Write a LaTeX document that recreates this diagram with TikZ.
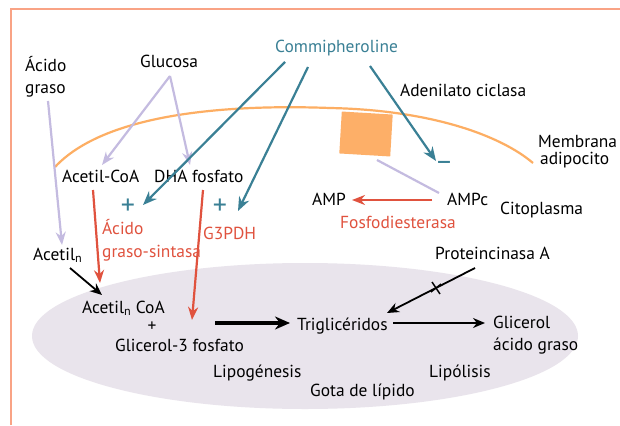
\documentclass[tikz,border=0pt]{standalone}
\usepackage{fontspec}
\setmainfont{PT Sans}
\usetikzlibrary{arrows.meta}
\definecolor{tealc}{HTML}{3A8095}
\definecolor{redc}{HTML}{E0523E}
\definecolor{lavc}{HTML}{C4BBE0}
\definecolor{memc}{HTML}{FDAE63}
\definecolor{sqc}{HTML}{FDAF68}
\definecolor{framec}{HTML}{F9A385}
\definecolor{ellc}{HTML}{E9E4EC}
\begin{document}
\begin{tikzpicture}[x=1pt,y=-1pt,
  txt/.style={inner sep=0pt, anchor=base west, font=\fontsize{17.4}{20}\selectfont},
  sign/.style={inner sep=0pt, anchor=center, text=tealc, font=\fontsize{28}{28}\selectfont},
  tealarr/.style={draw=tealc, line width=2.2pt, -{Stealth[length=14pt,width=11pt]}},
  redarr/.style={draw=redc, line width=2.2pt, -{Stealth[length=13pt,width=10pt]}},
  lavarr/.style={draw=lavc, line width=2.2pt, -{Stealth[length=13pt,width=10pt]}},
  blkarr/.style={draw=black, line width=1.8pt, -{Stealth[length=12pt,width=10pt]}},
  thickarr/.style={draw=black, line width=3.4pt, -{Stealth[length=15pt,width=13pt]}}]
\useasboundingbox (0,0) rectangle (620,425);
\fill[white] (0,0) rectangle (620,425);
\draw[framec, line width=1.6pt] (11,425) -- (11,9) -- (620,9);
\fill[ellc] (305,336) ellipse [x radius=273, y radius=73];
\draw[memc, line width=2.2pt] (55,167) .. controls (110,108) and (250,105) .. (330,108)
  .. controls (430,110) and (500,135) .. (533,163);
\node[fill=sqc, minimum width=51pt, minimum height=42pt, inner sep=0pt, rotate=-3.4] (square) at (366,134) {};

% texts
\node[txt, text=tealc] (commi) at (275,53) {Commipheroline};
\node[txt] (glucosa) at (140,68) {Glucosa};
\node[txt] (acido1) at (25,72) {Ácido};
\node[txt] (graso1) at (25,94) {graso};
\node[txt] (acetilcoa) at (62,182) {Acetil-CoA};
\node[txt] (dha) at (154,182) {DHA fosfato};
\node[txt] (adenilato) at (400,97) {Adenilato ciclasa};
\node[txt] (membrana) at (538,147) {Membrana};
\node[txt] (adipocito) at (540,164) {adipocito};
\node[txt] (amp) at (312,205) {AMP};
\node[txt] (ampc) at (447,205) {AMPc};
\node[txt] (citoplasma) at (500,214) {Citoplasma};
\node[txt, text=redc] (fosfo) at (340,228) {Fosfodiesterasa};
\node[txt] (prot) at (435,259) {Proteincinasa A};
\node[txt, text=redc] (acido2) at (102,234) {Ácido};
\node[txt, text=redc] (sintasa) at (102,257) {graso-sintasa};
\node[txt, text=redc] (g3pdh) at (203,239) {G3PDH};
\node[txt] (acetiln) at (33,260) {Acetil\textsubscript{n}};
\node[txt] (acetilncoa) at (82,313) {Acetil\textsubscript{n} CoA};
\node[txt, anchor=center] (plus) at (152,327) {+};
\node[txt] (glicerol3) at (115,351) {Glicerol-3 fosfato};
\node[txt] (lipogenesis) at (213,377) {Lipogénesis};
\node[txt] (trig) at (297,330) {Triglicéridos};
\node[txt] (glicerol) at (493,328) {Glicerol};
\node[txt] (acidograso) at (493,350) {ácido graso};
\node[txt] (lipolisis) at (429,377) {Lipólisis};
\node[txt] (gota) at (310,396) {Gota de lípido};
\node[sign] (plus1) at (128,207) {+};
\node[sign] (plus2) at (220,207) {+};
\node[sign] (minus) at (444,166) {–};

% connectors
\draw[lavarr] ([shift={(30,8)}]glucosa.base west) -- ([shift={(40,-17)}]acetilcoa.base west);
\draw[lavarr] ([shift={(30,8)}]glucosa.base west) -- ([shift={(36,-17)}]dha.base west);
\draw[lavarr] ([shift={(23,7)}]graso1.base west) -- ([shift={(29,-15)}]acetiln.base west);
\draw[tealarr] ([shift={(10,9)}]commi.base west) -- ([shift={(15,-2)}]plus1.center);
\draw[tealarr] ([shift={(33,14)}]commi.base west) -- ([shift={(18,4)}]plus2.center);
\draw[tealarr] ([shift={(95,13)}]commi.base west) -- ([shift={(-8,-5)}]minus.center);
\draw[redarr] ([shift={(31,8)}]acetilcoa.base west) -- ([shift={(18,-30)}]acetilncoa.base west);
\draw[redarr] ([shift={(49,8)}]dha.base west) -- ([shift={(77,-31)}]glicerol3.base west);
\draw[redarr] ([shift={(-15,-5)}]ampc.base west) -- ([shift={(40,-5)}]amp.base west);
\draw[lavc, line width=2.2pt] ([shift={(11,26)}]square.center) -- ([shift={(-8,-12)}]ampc.base west);
\draw[blkarr] ([shift={(37,8)}]acetiln.base west) -- ([shift={(20,-18)}]acetilncoa.base west);
\draw[thickarr] ([shift={(63,-4)}]plus.center) -- ([shift={(-7,-7)}]trig.base west);
\draw[blkarr] ([shift={(96,-7)}]trig.base west) -- ([shift={(-8,-5)}]glicerol.base west);
\draw[blkarr] ([shift={(40,9)}]prot.base west) -- ([shift={(90,-17)}]trig.base west);
\draw[black, line width=1.4pt] ([shift={(-3,23)}]prot.base west) -- ([shift={(5,35)}]prot.base west);
\draw[black, line width=1.4pt] ([shift={(-4,33)}]prot.base west) -- ([shift={(6,25)}]prot.base west);
\end{tikzpicture}
\end{document}
